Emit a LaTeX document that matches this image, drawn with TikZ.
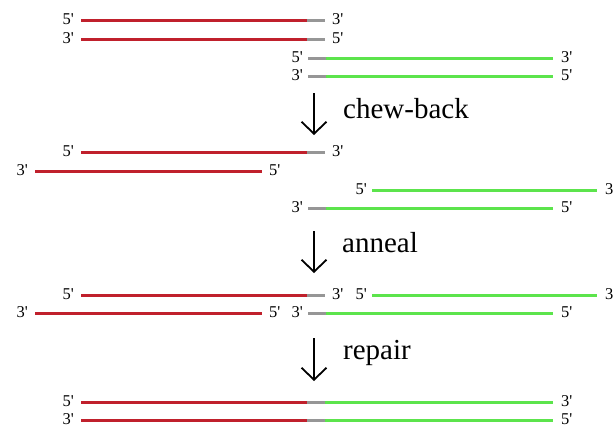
\documentclass[tikz,border=0pt]{standalone}
\usepackage{fontspec}
\setmainfont{Liberation Serif}
\usetikzlibrary{arrows.meta}
\definecolor{dnared}{RGB}{192,32,44}
\definecolor{dnagreen}{RGB}{92,228,76}
\definecolor{dnagray}{RGB}{150,150,150}
\newcommand{\fiv}{5\textquotesingle}
\newcommand{\thr}{3\textquotesingle}
\begin{document}
\begin{tikzpicture}[x=1pt,y=-1pt,
  strand/.style={line width=3pt},
  redstrand/.style={strand,draw=dnared},
  greenstrand/.style={strand,draw=dnagreen},
  graystrand/.style={strand,draw=dnagray},
  endl/.style={font=\fontsize{16.5}{16.5}\selectfont,inner sep=0pt,anchor=base east},
  endr/.style={font=\fontsize{16.5}{16.5}\selectfont,inner sep=0pt,anchor=base west},
  steparrow/.style={line width=1.8pt,-{Straight Barb[length=12pt,width=25pt,line width=1.8pt]}},
  steplabel/.style={font=\fontsize{29}{29}\selectfont,inner sep=0pt,anchor=base west}]
\useasboundingbox (0,0) rectangle (615,432);
% ---------- Block 1 ----------
\coordinate (a1s) at (81,20); \coordinate (a1m) at (307,20); \coordinate (a1e) at (325,20);
\coordinate (a2s) at (81,39); \coordinate (a2m) at (307,39); \coordinate (a2e) at (325,39);
\coordinate (a3s) at (308,58); \coordinate (a3m) at (326,58); \coordinate (a3e) at (553,58);
\coordinate (a4s) at (308,76); \coordinate (a4m) at (326,76); \coordinate (a4e) at (553,76);
\draw[redstrand] (a1s) -- (a1m); \draw[graystrand] (a1m) -- (a1e);
\draw[redstrand] (a2s) -- (a2m); \draw[graystrand] (a2m) -- (a2e);
\draw[graystrand] (a3s) -- (a3m); \draw[greenstrand] (a3m) -- (a3e);
\draw[graystrand] (a4s) -- (a4m); \draw[greenstrand] (a4m) -- (a4e);
\node[endl] (la1) at ([shift={(-7,4)}]a1s) {\fiv};
\node[endr] (ra1) at ([shift={(7,4)}]a1e) {\thr};
\node[endl] (la2) at ([shift={(-7,4)}]a2s) {\thr};
\node[endr] (ra2) at ([shift={(7,4)}]a2e) {\fiv};
\node[endl] (la3) at ([shift={(-5,4)}]a3s) {\fiv};
\node[endr] (ra3) at ([shift={(8,4)}]a3e) {\thr};
\node[endl] (la4) at ([shift={(-5,4)}]a4s) {\thr};
\node[endr] (ra4) at ([shift={(8,4)}]a4e) {\fiv};
% arrow 1
\coordinate (s1t) at (314,93); \coordinate (s1b) at (314,135);
\draw[steparrow] (s1t) -- (s1b);
\node[steplabel] (chew) at (343,118) {chew-back};
% ---------- Block 2 ----------
\coordinate (b1s) at (81,152); \coordinate (b1m) at (307,152); \coordinate (b1e) at (325,152);
\coordinate (b2s) at (35,171); \coordinate (b2e) at (262,171);
\coordinate (b3s) at (372,190); \coordinate (b3e) at (597,190);
\coordinate (b4s) at (308,208); \coordinate (b4m) at (326,208); \coordinate (b4e) at (553,208);
\draw[redstrand] (b1s) -- (b1m); \draw[graystrand] (b1m) -- (b1e);
\draw[redstrand] (b2s) -- (b2e);
\draw[greenstrand] (b3s) -- (b3e);
\draw[graystrand] (b4s) -- (b4m); \draw[greenstrand] (b4m) -- (b4e);
\node[endl] (lb1) at ([shift={(-7,4)}]b1s) {\fiv};
\node[endr] (rb1) at ([shift={(7,4)}]b1e) {\thr};
\node[endl] (lb2) at ([shift={(-7,4)}]b2s) {\thr};
\node[endr] (rb2) at ([shift={(7,4)}]b2e) {\fiv};
\node[endl] (lb3) at ([shift={(-5,4)}]b3s) {\fiv};
\node[endr] (rb3) at ([shift={(8,4)}]b3e) {3};
\node[endl] (lb4) at ([shift={(-5,4)}]b4s) {\thr};
\node[endr] (rb4) at ([shift={(8,4)}]b4e) {\fiv};
% arrow 2
\coordinate (s2t) at (314,231); \coordinate (s2b) at (314,273);
\draw[steparrow] (s2t) -- (s2b);
\node[steplabel] (anneal) at (342,252) {anneal};
% ---------- Block 3 ----------
\coordinate (c1s) at (81,295); \coordinate (c1m) at (307,295); \coordinate (c1e) at (325,295);
\coordinate (c2s) at (372,295); \coordinate (c2e) at (597,295);
\coordinate (c3s) at (35,313); \coordinate (c3e) at (262,313);
\coordinate (c4s) at (308,313); \coordinate (c4m) at (326,313); \coordinate (c4e) at (553,313);
\draw[redstrand] (c1s) -- (c1m); \draw[graystrand] (c1m) -- (c1e);
\draw[greenstrand] (c2s) -- (c2e);
\draw[redstrand] (c3s) -- (c3e);
\draw[graystrand] (c4s) -- (c4m); \draw[greenstrand] (c4m) -- (c4e);
\node[endl] (lc1) at ([shift={(-7,4)}]c1s) {\fiv};
\node[endr] (rc1) at ([shift={(7,4)}]c1e) {\thr};
\node[endl] (lc2) at ([shift={(-5,4)}]c2s) {\fiv};
\node[endr] (rc2) at ([shift={(8,4)}]c2e) {3};
\node[endl] (lc3) at ([shift={(-7,4)}]c3s) {\thr};
\node[endr] (rc3) at ([shift={(7,4)}]c3e) {\fiv};
\node[endl] (lc4) at ([shift={(-5,4)}]c4s) {\thr};
\node[endr] (rc4) at ([shift={(8,4)}]c4e) {\fiv};
% arrow 3
\coordinate (s3t) at (314,338); \coordinate (s3b) at (314,381);
\draw[steparrow] (s3t) -- (s3b);
\node[steplabel] (repair) at (343,359) {repair};
% ---------- Block 4 ----------
\coordinate (d1s) at (81,402); \coordinate (d1m) at (307,402); \coordinate (d1n) at (325,402); \coordinate (d1e) at (553,402);
\coordinate (d2s) at (81,420); \coordinate (d2m) at (307,420); \coordinate (d2n) at (325,420); \coordinate (d2e) at (553,420);
\draw[redstrand] (d1s) -- (d1m); \draw[graystrand] (d1m) -- (d1n); \draw[greenstrand] (d1n) -- (d1e);
\draw[redstrand] (d2s) -- (d2m); \draw[graystrand] (d2m) -- (d2n); \draw[greenstrand] (d2n) -- (d2e);
\node[endl] (ld1) at ([shift={(-7,4)}]d1s) {\fiv};
\node[endr] (rd1) at ([shift={(8,4)}]d1e) {\thr};
\node[endl] (ld2) at ([shift={(-7,4)}]d2s) {\thr};
\node[endr] (rd2) at ([shift={(8,4)}]d2e) {\fiv};
\end{tikzpicture}
\end{document}
